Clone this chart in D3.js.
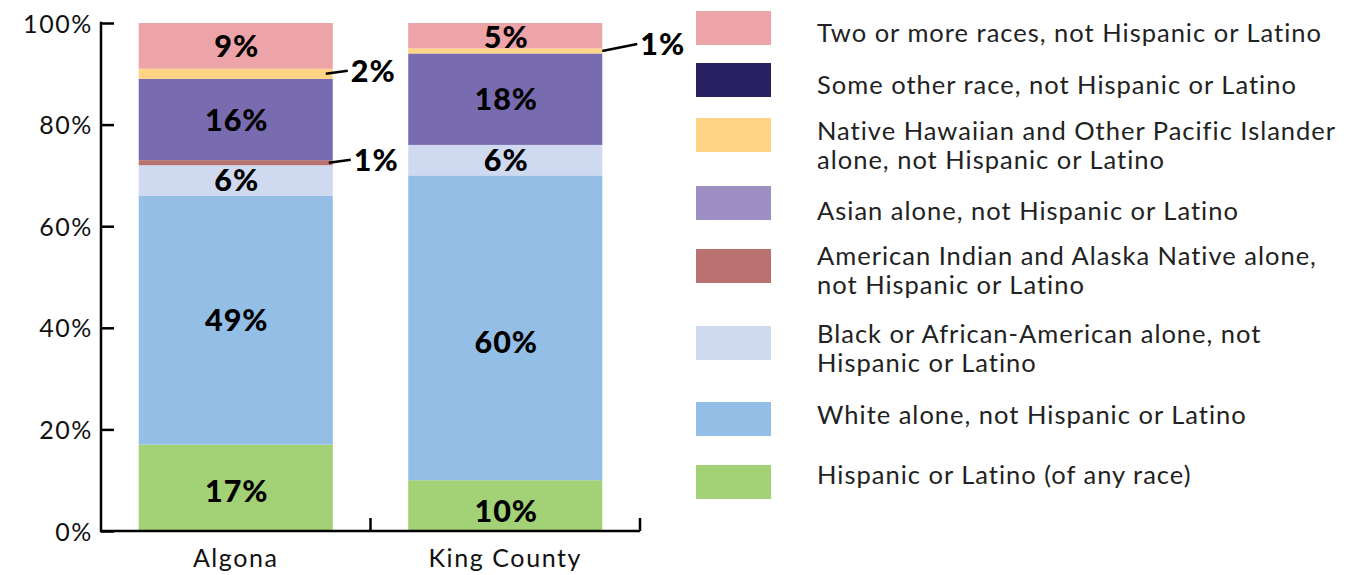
<!DOCTYPE html>
<html>
<head>
<meta charset="utf-8">
<style>
  body { margin: 0; background: #fff; }
  svg text { font-family: Lato, "Open Sans", sans-serif; }
  .tick-label { font-size: 25px; fill: #111; letter-spacing: 1.6px; }
  .seg-label { font-size: 30.5px; font-weight: 900; fill: #000; letter-spacing: 1px; }
  .legend-text { font-size: 25.5px; fill: #222; letter-spacing: 1px; }
</style>
</head>
<body>
<svg width="1362" height="575"></svg>
<script src="https://d3js.org/d3.v7.min.js"></script>
<script>

// categories and series (percent of population)
var places = ["Algona", "King County"];
var keys = ["hisp", "white", "black", "aian", "asian", "nhpi", "other", "two"];
var hisp  = [17, 10];
var white = [49, 60];
var black = [6, 6];
var aian  = [1, 0];
var asian = [16, 18];
var nhpi  = [2, 1];
var other = [0, 0];
var two   = [9, 5];
var yTicks = [0, 20, 40, 60, 80, 100];

var legendNames = {
  two: ["Two or more races, not Hispanic or Latino"],
  other: ["Some other race, not Hispanic or Latino"],
  nhpi: ["Native Hawaiian and Other Pacific Islander", "alone, not Hispanic or Latino"],
  asian: ["Asian alone, not Hispanic or Latino"],
  aian: ["American Indian and Alaska Native alone,", "not Hispanic or Latino"],
  black: ["Black or African-American alone, not", "Hispanic or Latino"],
  white: ["White alone, not Hispanic or Latino"],
  hisp: ["Hispanic or Latino (of any race)"]
};

var barColor = {
  hisp: "#a3d175", white: "#93bee5", black: "#cfd9f0", aian: "#b9726f",
  asian: "#796baf", nhpi: "#ffd485", other: "#282060", two: "#eca4a8"
};
var swatchColor = Object.assign({}, barColor, { asian: "#9d8ec4" });

// small segments get an outside label with a leader line
var nudge = {
  "Algona|nhpi": { x0: -7, x1: 15, dy: -3 },
  "Algona|aian": { x0: -4, x1: 18, dy: -3 },
  "King County|nhpi": { x0: 0, x1: 35, dy: -7 }
};
// labels placed a little off centre in the original
var labelShift = { "King County|white": 14, "King County|hisp": 5, "Algona|hisp": 3, "King County|two": 1 };

var series = { hisp: hisp, white: white, black: black, aian: aian, asian: asian, nhpi: nhpi, other: other, two: two };
var rows = places.map(function(p, i) {
  var r = { place: p };
  keys.forEach(function(k) { r[k] = series[k][i]; });
  return r;
});

var svg = d3.select("svg");
var x = d3.scaleBand().domain(places).range([101, 640]).paddingInner(0.28).paddingOuter(0.14);
var y = d3.scaleLinear().domain([0, 100]).range([531, 23]);

var stacked = d3.stack().keys(keys)(rows);

// bars
var layer = svg.append("g").selectAll("g").data(stacked).enter().append("g")
    .attr("fill", function(d) { return barColor[d.key]; });
layer.selectAll("rect").data(function(d) { return d; }).enter().append("rect")
    .attr("x", function(d) { return x(d.data.place); })
    .attr("width", x.bandwidth())
    .attr("y", function(d) { return y(d[1]); })
    .attr("height", function(d) { return y(d[0]) - y(d[1]); });

// y axis
var yAxis = svg.append("g")
    .attr("transform", "translate(101,0)")
    .call(d3.axisRight(y).tickValues(yTicks).tickSize(13).tickFormat(function(d) { return d + "%"; }));
yAxis.select(".domain").remove();
yAxis.selectAll("line").attr("stroke", "#000").attr("stroke-width", 2.5);
yAxis.selectAll("text").attr("class", "tick-label").attr("x", -8).attr("text-anchor", "end").attr("dy", "0.36em");
svg.append("line").attr("x1", 101).attr("x2", 101).attr("y1", y(100) - 1.2).attr("y2", y(0) + 1.2)
    .attr("stroke", "#000").attr("stroke-width", 2.5);

// x axis
var xAxis = svg.append("g")
    .attr("transform", "translate(0," + y(0) + ")")
    .call(d3.axisBottom(x).tickSize(0).tickPadding(18));
xAxis.select(".domain").attr("d", "M101,0H640").attr("stroke", "#000").attr("stroke-width", 2.5);
xAxis.selectAll("text").attr("class", "tick-label").attr("dy", "0.71em");
var bounds = [x("King County") - x.step() * x.paddingInner() / 2, 640];
xAxis.selectAll(".sep").data(bounds).enter().append("line")
    .attr("x1", function(d) { return d; }).attr("x2", function(d) { return d; })
    .attr("y1", 0).attr("y2", -13).attr("stroke", "#000").attr("stroke-width", 2.5);

// segment labels
stacked.forEach(function(s) {
  s.forEach(function(d) {
    var v = d[1] - d[0];
    if (v <= 0) return;
    var id = d.data.place + "|" + s.key;
    var mid = (y(d[0]) + y(d[1])) / 2;
    var n = nudge[id];
    if (n) {
      var right = x(d.data.place) + x.bandwidth();
      svg.append("line")
          .attr("x1", right + n.x0).attr("y1", mid)
          .attr("x2", right + n.x1).attr("y2", mid + n.dy)
          .attr("stroke", "#000").attr("stroke-width", 2.5);
      svg.append("text").attr("class", "seg-label")
          .attr("x", right + n.x1 + 3).attr("y", mid + n.dy).attr("dy", "0.36em")
          .text(v + "%");
    } else {
      svg.append("text").attr("class", "seg-label")
          .attr("x", x(d.data.place) + x.bandwidth() / 2 + 1).attr("y", mid + (labelShift[id] || 0)).attr("dy", "0.36em")
          .attr("text-anchor", "middle")
          .text(v + "%");
    }
  });
});

// legend
var legendKeys = keys.slice().reverse();
var swatchTop = [11, 63, 118, 186, 249, 326, 402, 465];
var textBase = [[42], [94], [140, 168.5], [220], [264.5, 294], [343, 372], [424], [484]];
var lg = svg.append("g").selectAll("g").data(legendKeys).enter().append("g");
lg.append("rect")
    .attr("x", 696).attr("y", function(d, i) { return swatchTop[i]; })
    .attr("width", 75).attr("height", 34).attr("fill", function(d) { return swatchColor[d]; });
lg.each(function(k, i) {
  var t = d3.select(this).append("text").attr("class", "legend-text");
  legendNames[k].forEach(function(l, j) {
    t.append("tspan").attr("x", 817).attr("y", textBase[i][j]).text(l);
  });
});

</script>
</body>
</html>
